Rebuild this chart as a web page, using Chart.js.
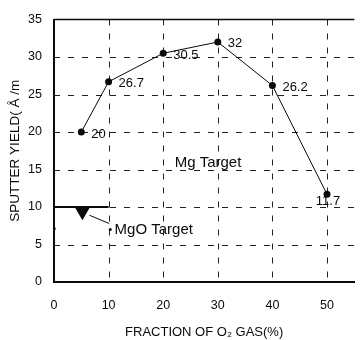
<!DOCTYPE html>
<html>
<head>
<meta charset="utf-8">
<script src="https://cdn.jsdelivr.net/npm/chart.js@4.4.0/dist/chart.umd.min.js"></script>
<style>
  html, body { margin: 0; padding: 0; background: #fff; }
  #wrap { width: 363px; height: 340px; position: relative; }
</style>
</head>
<body>
<div id="wrap"><canvas id="chart"></canvas></div>
<script>
'use strict';

// ─── Data ────────────────────────────────────────────────────────────────────
const o2Fraction = [5, 10, 20, 30, 40, 50];
const mgYield    = [20, 26.7, 30.5, 32, 26.2, 11.7];

// MgO target: a flat bar at 10 between 0 and 10 %, a marker and a leader line
const mgoBarX    = [0, 10];
const mgoBarY    = [10, 10];
const mgoMarkX   = [5.2];
const mgoMarkY   = [9.4];
const mgoLeadX   = [6.5, 10.1];
const mgoLeadY   = [8.9, 7.8];
const mgoDotX    = [10.3];
const mgoDotY    = [7.0];
const axisMarkX  = [0];
const axisMarkY  = [7.1];

const mgLabel     = 'Mg Target';
const mgoLabel    = 'MgO Target';
const mgTargetAt  = [22.1, 15.9];
const mgoTargetAt = [11.1, 6.9];

const xTicks = [0, 10, 20, 30, 40, 50];
const yTicks = [0, 5, 10, 15, 20, 25, 30, 35];

const FONT = '"Liberation Sans", Arial, sans-serif';
const INK  = '#0a0a0a';

const pts = (xs, ys) => xs.map((x, i) => ({ x, y: ys[i] }));

// ─── Dashed grid (drawn under the data) ──────────────────────────────────────
const gridPlugin = {
  id: 'dashGrid',
  beforeDatasetsDraw(chart) {
    const { ctx, scales: { x, y }, chartArea: a } = chart;
    ctx.save();
    ctx.strokeStyle = '#222';
    ctx.lineWidth = 1;
    ctx.setLineDash([6, 8]);
    ctx.beginPath();
    yTicks.filter((v) => v > 0 && v < 35).forEach((v) => {
      const py = Math.round(y.getPixelForValue(v)) + 0.5;
      ctx.moveTo(a.left, py);
      ctx.lineTo(a.right, py);
    });
    xTicks.filter((v) => v > 0).forEach((v) => {
      const px = Math.round(x.getPixelForValue(v)) + 0.5;
      ctx.moveTo(px, a.top);
      ctx.lineTo(px, a.bottom);
    });
    ctx.stroke();
    ctx.setLineDash([]);

    // top frame line at 35
    ctx.strokeStyle = INK;
    ctx.lineWidth = 1.5;
    ctx.beginPath();
    ctx.moveTo(a.left, a.top);
    ctx.lineTo(a.right, a.top);
    ctx.stroke();
    ctx.restore();
  },
};

// ─── Point values and target labels ──────────────────────────────────────────
const labelPlugin = {
  id: 'labels',
  afterDatasetsDraw(chart) {
    const { ctx, scales: { x, y } } = chart;
    ctx.save();
    ctx.fillStyle = INK;
    ctx.font = '13px ' + FONT;
    ctx.textBaseline = 'middle';
    mgYield.forEach((v, i) => {
      const px = x.getPixelForValue(o2Fraction[i]);
      const py = y.getPixelForValue(v);
      const txt = String(v);
      if (i === mgYield.length - 1) {
        ctx.textAlign = 'center';
        ctx.fillText(txt, px + 1, py + 7);
      } else {
        ctx.textAlign = 'left';
        ctx.fillText(txt, px + 10, py + (i === 3 ? 1 : 2));
      }
    });

    ctx.textAlign = 'left';
    ctx.font = '15px ' + FONT;
    ctx.fillText(mgLabel, x.getPixelForValue(mgTargetAt[0]), y.getPixelForValue(mgTargetAt[1]));
    ctx.fillText(mgoLabel, x.getPixelForValue(mgoTargetAt[0]), y.getPixelForValue(mgoTargetAt[1]));
    ctx.restore();
  },
};

const hiddenGrid = { color: 'rgba(0,0,0,0)', drawTicks: false };

new Chart(document.getElementById('chart'), {
  type: 'scatter',
  data: {
    datasets: [
      {
        data: pts(o2Fraction, mgYield),
        showLine: true,
        borderColor: INK,
        borderWidth: 1,
        pointRadius: 3.5,
        pointBackgroundColor: INK,
        pointBorderWidth: 0,
      },
      {
        data: pts(mgoBarX, mgoBarY),
        showLine: true,
        borderColor: INK,
        borderWidth: 2,
        pointRadius: 0,
      },
      {
        data: pts(mgoLeadX, mgoLeadY),
        showLine: true,
        borderColor: INK,
        borderWidth: 1,
        pointRadius: 0,
      },
      {
        data: pts(mgoDotX, mgoDotY),
        pointRadius: 1.5,
        pointBackgroundColor: INK,
        pointBorderWidth: 0,
      },
      {
        data: pts(axisMarkX, axisMarkY),
        pointRadius: 1.8,
        pointBackgroundColor: INK,
        pointBorderWidth: 0,
      },
      {
        data: pts(mgoMarkX, mgoMarkY),
        pointStyle: 'triangle',
        rotation: 180,
        pointRadius: 8.7,
        pointBackgroundColor: INK,
        pointBorderColor: INK,
        pointBorderWidth: 0,
      },
    ],
  },
  options: {
    animation: false,
    responsive: true,
    maintainAspectRatio: false,
    layout: { padding: { top: 11, right: 0, left: 0, bottom: 0 } },
    plugins: {
      legend: { display: false },
      tooltip: { enabled: false },
    },
    scales: {
      x: {
        type: 'linear',
        min: 0,
        max: 55,
        afterBuildTicks: (s) => { s.ticks = xTicks.map((value) => ({ value })); },
        afterFit: (s) => { s.height = 58; },
        grid: hiddenGrid,
        border: { display: true, color: INK, width: 2 },
        ticks: { color: INK, padding: 16, font: { family: FONT, size: 12.5 }, maxRotation: 0 },
        title: {
          display: true,
          text: 'FRACTION OF O\u2082 GAS(%)',
          color: INK,
          font: { family: FONT, size: 13 },
          padding: { top: 2, bottom: 0 },
        },
      },
      y: {
        type: 'linear',
        min: 0,
        max: 35,
        afterBuildTicks: (s) => { s.ticks = yTicks.map((value) => ({ value })); },
        afterFit: (s) => { s.width = 54; },
        grid: hiddenGrid,
        border: { display: true, color: INK, width: 2 },
        ticks: { color: INK, padding: 12, font: { family: FONT, size: 12.5 } },
        title: {
          display: true,
          text: 'SPUTTER YIELD( \u00c5 /m',
          color: INK,
          font: { family: FONT, size: 13.5 },
          padding: { top: 7, bottom: 0 },
        },
      },
    },
  },
  plugins: [gridPlugin, labelPlugin],
});
</script>
</body>
</html>
